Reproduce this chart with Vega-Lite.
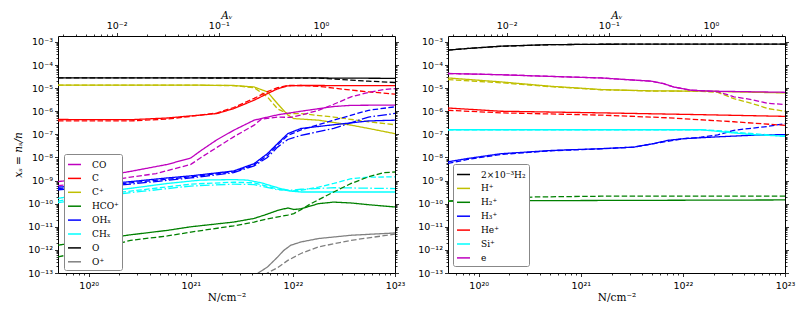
{
 "$schema": "https://vega.github.io/schema/vega-lite/v6.json",
 "padding": {"left": 13, "top": 10, "right": 0, "bottom": 0},
 "bounds": "flush",
 "spacing": 53,
 "config": {
  "view": {"stroke": "black", "strokeWidth": 1},
  "axis": {
   "grid": false, "domain": false, "tickColor": "black", "tickWidth": 0.8,
   "tickSize": {"condition": {"test": "abs(log(datum.value)/LN10-round(log(datum.value)/LN10))<0.001", "value": 3.5}, "value": 2},
   "labelFont": "DejaVu Sans", "labelFontSize": 9.5, "labelColor": "black", "labelPadding": 2,
   "labelOverlap": false, "labelFlush": false, "labelBound": false,
   "labelExpr": "abs(log(datum.value)/LN10-round(log(datum.value)/LN10))>0.001 ? '' : '10' + (datum.value<1 ? '⁻' : '') + (abs(round(log(datum.value)/LN10))>=10 ? ['⁰','¹','²','³','⁴','⁵','⁶','⁷','⁸','⁹'][floor(abs(round(log(datum.value)/LN10))/10)] : '') + ['⁰','¹','²','³','⁴','⁵','⁶','⁷','⁸','⁹'][abs(round(log(datum.value)/LN10))%10]",
   "titleFont": "DejaVu Serif", "titleFontSize": 10.5, "titleFontWeight": "normal", "titleColor": "black"
  },
  "legend": {
   "orient": "none", "title": null, "symbolType": "stroke", "symbolStrokeWidth": 1.5, "symbolSize": 170,
   "labelFont": "DejaVu Serif", "labelFontSize": 9, "labelColor": "black", "labelOffset": 10,
   "strokeColor": "#888888", "fillColor": "white", "padding": 3, "rowPadding": 0.9, "cornerRadius": 2
  }
 },
 "datasets": {
  "d": [{"a": 0.1, "v": 1e-8}],
  "L": [
   {"s":"O","m":"solid","N":5e19,"v":2.75e-5},{"s":"O","m":"solid","N":1e21,"v":2.75e-5},{"s":"O","m":"solid","N":1.78e22,"v":2.75e-5},{"s":"O","m":"solid","N":3.72e22,"v":2.7e-5},{"s":"O","m":"solid","N":1e23,"v":2.65e-5},
   {"s":"O","m":"dashed","N":5e19,"v":2.75e-5},{"s":"O","m":"dashed","N":1e21,"v":2.75e-5},{"s":"O","m":"dashed","N":1.78e22,"v":2.72e-5},{"s":"O","m":"dashed","N":2.51e22,"v":2.5e-5},{"s":"O","m":"dashed","N":3.72e22,"v":2.2e-5},{"s":"O","m":"dashed","N":5.5e22,"v":2.0e-5},{"s":"O","m":"dashed","N":1e23,"v":1.75e-5},

   {"s":"C⁺","m":"solid","N":5e19,"v":1.35e-5},{"s":"C⁺","m":"solid","N":1e21,"v":1.35e-5},{"s":"C⁺","m":"solid","N":2.63e21,"v":1.3e-5},{"s":"C⁺","m":"solid","N":4.17e21,"v":1.12e-5},{"s":"C⁺","m":"solid","N":5.62e21,"v":6.9e-6},{"s":"C⁺","m":"solid","N":7.08e21,"v":2.1e-6},{"s":"C⁺","m":"solid","N":8.91e21,"v":6.9e-7},{"s":"C⁺","m":"solid","N":1.02e22,"v":4.8e-7},{"s":"C⁺","m":"solid","N":1.78e22,"v":4.1e-7},{"s":"C⁺","m":"solid","N":3.72e22,"v":2.5e-7},{"s":"C⁺","m":"solid","N":5.5e22,"v":1.8e-7},{"s":"C⁺","m":"solid","N":1e23,"v":1.07e-7},
   {"s":"C⁺","m":"dashed","N":5e19,"v":1.35e-5},{"s":"C⁺","m":"dashed","N":1e21,"v":1.35e-5},{"s":"C⁺","m":"dashed","N":2.63e21,"v":1.28e-5},{"s":"C⁺","m":"dashed","N":4.17e21,"v":1.05e-5},{"s":"C⁺","m":"dashed","N":5.62e21,"v":4.2e-6},{"s":"C⁺","m":"dashed","N":7.08e21,"v":1.26e-6},{"s":"C⁺","m":"dashed","N":8.91e21,"v":7.9e-7},{"s":"C⁺","m":"dashed","N":1.2e22,"v":7.9e-7},{"s":"C⁺","m":"dashed","N":2.51e22,"v":5.6e-7},{"s":"C⁺","m":"dashed","N":5.5e22,"v":3.5e-7},{"s":"C⁺","m":"dashed","N":1e23,"v":2.6e-7},

   {"s":"C","m":"solid","N":5e19,"v":4.4e-7},{"s":"C","m":"solid","N":1.32e20,"v":4.3e-7},{"s":"C","m":"solid","N":2.57e20,"v":4.3e-7},{"s":"C","m":"solid","N":5.9e20,"v":5.1e-7},{"s":"C","m":"solid","N":1e21,"v":6.3e-7},{"s":"C","m":"solid","N":1.26e21,"v":6.8e-7},{"s":"C","m":"solid","N":1.82e21,"v":8e-7},{"s":"C","m":"solid","N":2.63e21,"v":1.3e-6},{"s":"C","m":"solid","N":4.17e21,"v":3e-6},{"s":"C","m":"solid","N":5.62e21,"v":5.8e-6},{"s":"C","m":"solid","N":7.08e21,"v":9.3e-6},{"s":"C","m":"solid","N":8.91e21,"v":1.26e-5},{"s":"C","m":"solid","N":1.2e22,"v":1.3e-5},{"s":"C","m":"solid","N":1e23,"v":1.28e-5},
   {"s":"C","m":"dashed","N":5e19,"v":3.8e-7},{"s":"C","m":"dashed","N":2.57e20,"v":3.8e-7},{"s":"C","m":"dashed","N":5.9e20,"v":4.6e-7},{"s":"C","m":"dashed","N":1e21,"v":6e-7},{"s":"C","m":"dashed","N":1.82e21,"v":8.5e-7},{"s":"C","m":"dashed","N":2.63e21,"v":1.45e-6},{"s":"C","m":"dashed","N":4.17e21,"v":3.6e-6},{"s":"C","m":"dashed","N":5.62e21,"v":7e-6},{"s":"C","m":"dashed","N":7.08e21,"v":1.05e-5},{"s":"C","m":"dashed","N":8.91e21,"v":1.3e-5},{"s":"C","m":"dashed","N":1.2e22,"v":1.3e-5},{"s":"C","m":"dashed","N":1.78e22,"v":1.2e-5},{"s":"C","m":"dashed","N":2.51e22,"v":1.0e-5},{"s":"C","m":"dashed","N":3.72e22,"v":8.2e-6},{"s":"C","m":"dashed","N":5.5e22,"v":6.9e-6},{"s":"C","m":"dashed","N":1e23,"v":5.5e-6},

   {"s":"CO","m":"solid","N":5e19,"v":9e-10},{"s":"CO","m":"solid","N":1.32e20,"v":1.5e-9},{"s":"CO","m":"solid","N":2.57e20,"v":2.5e-9},{"s":"CO","m":"solid","N":5.9e20,"v":5e-9},{"s":"CO","m":"solid","N":1e21,"v":9.5e-9},{"s":"CO","m":"solid","N":1.26e21,"v":2e-8},{"s":"CO","m":"solid","N":1.82e21,"v":6e-8},{"s":"CO","m":"solid","N":2.63e21,"v":1.5e-7},{"s":"CO","m":"solid","N":4.17e21,"v":4.1e-7},{"s":"CO","m":"solid","N":7.08e21,"v":7e-7},{"s":"CO","m":"solid","N":1.2e22,"v":1.0e-6},{"s":"CO","m":"solid","N":2.51e22,"v":1.6e-6},{"s":"CO","m":"solid","N":3.72e22,"v":1.8e-6},{"s":"CO","m":"solid","N":1e23,"v":1.85e-6},
   {"s":"CO","m":"dashed","N":5e19,"v":6e-10},{"s":"CO","m":"dashed","N":1.32e20,"v":9e-10},{"s":"CO","m":"dashed","N":2.57e20,"v":1.4e-9},{"s":"CO","m":"dashed","N":4.57e20,"v":2e-9},{"s":"CO","m":"dashed","N":1e21,"v":5e-9},{"s":"CO","m":"dashed","N":1.26e21,"v":1e-8},{"s":"CO","m":"dashed","N":1.82e21,"v":2.8e-8},{"s":"CO","m":"dashed","N":2.63e21,"v":7.8e-8},{"s":"CO","m":"dashed","N":4.17e21,"v":2.5e-7},{"s":"CO","m":"dashed","N":4.9e21,"v":4.5e-7},{"s":"CO","m":"dashed","N":7.08e21,"v":5.6e-7},{"s":"CO","m":"dashed","N":9.55e21,"v":5.4e-7},{"s":"CO","m":"dashed","N":1.2e22,"v":6.8e-7},{"s":"CO","m":"dashed","N":1.78e22,"v":1.1e-6},{"s":"CO","m":"dashed","N":2.51e22,"v":2.0e-6},{"s":"CO","m":"dashed","N":3.72e22,"v":4.2e-6},{"s":"CO","m":"dashed","N":5.5e22,"v":6.5e-6},{"s":"CO","m":"dashed","N":7.76e22,"v":8.7e-6},{"s":"CO","m":"dashed","N":1e23,"v":9.5e-6},

   {"s":"OHₓ","m":"solid","N":5e19,"v":5.2e-10},{"s":"OHₓ","m":"solid","N":1.32e20,"v":7e-10},{"s":"OHₓ","m":"solid","N":2.57e20,"v":9e-10},{"s":"OHₓ","m":"solid","N":5.9e20,"v":1.3e-9},{"s":"OHₓ","m":"solid","N":1e21,"v":1.6e-9},{"s":"OHₓ","m":"solid","N":2.63e21,"v":2.6e-9},{"s":"OHₓ","m":"solid","N":4.17e21,"v":5.4e-9},{"s":"OHₓ","m":"solid","N":5.62e21,"v":1.45e-8},{"s":"OHₓ","m":"solid","N":7.08e21,"v":4e-8},{"s":"OHₓ","m":"solid","N":8.91e21,"v":1.07e-7},{"s":"OHₓ","m":"solid","N":1.2e22,"v":1.8e-7},{"s":"OHₓ","m":"solid","N":2.51e22,"v":2.6e-7},{"s":"OHₓ","m":"solid","N":5.5e22,"v":3.8e-7},{"s":"OHₓ","m":"solid","N":1e23,"v":4.1e-7},
   {"s":"OHₓ","m":"dashed","N":5e19,"v":4.5e-10},{"s":"OHₓ","m":"dashed","N":1.32e20,"v":6e-10},{"s":"OHₓ","m":"dashed","N":2.57e20,"v":8e-10},{"s":"OHₓ","m":"dashed","N":1e21,"v":1.45e-9},{"s":"OHₓ","m":"dashed","N":2.63e21,"v":2.4e-9},{"s":"OHₓ","m":"dashed","N":4.17e21,"v":4.8e-9},{"s":"OHₓ","m":"dashed","N":5.62e21,"v":1.2e-8},{"s":"OHₓ","m":"dashed","N":7.08e21,"v":3.5e-8},{"s":"OHₓ","m":"dashed","N":8.91e21,"v":9e-8},{"s":"OHₓ","m":"dashed","N":1.2e22,"v":1.55e-7},{"s":"OHₓ","m":"dashed","N":2.51e22,"v":4.1e-7},{"s":"OHₓ","m":"dashed","N":5.5e22,"v":1.1e-6},{"s":"OHₓ","m":"dashed","N":1e23,"v":1.55e-6},
   {"s":"OHₓ","m":"dashdot","N":5e19,"v":4e-10},{"s":"OHₓ","m":"dashdot","N":1.32e20,"v":5.5e-10},{"s":"OHₓ","m":"dashdot","N":2.57e20,"v":7e-10},{"s":"OHₓ","m":"dashdot","N":1e21,"v":1.3e-9},{"s":"OHₓ","m":"dashdot","N":2.63e21,"v":2.2e-9},{"s":"OHₓ","m":"dashdot","N":4.17e21,"v":4.3e-9},{"s":"OHₓ","m":"dashdot","N":5.62e21,"v":1e-8},{"s":"OHₓ","m":"dashdot","N":7.08e21,"v":2.8e-8},{"s":"OHₓ","m":"dashdot","N":8.91e21,"v":6e-8},{"s":"OHₓ","m":"dashdot","N":1.2e22,"v":9e-8},{"s":"OHₓ","m":"dashdot","N":2.51e22,"v":1.8e-7},{"s":"OHₓ","m":"dashdot","N":5.5e22,"v":5.6e-7},{"s":"OHₓ","m":"dashdot","N":1e23,"v":8e-7},

   {"s":"CHₓ","m":"solid","N":5e19,"v":1.7e-10},{"s":"CHₓ","m":"solid","N":1.32e20,"v":3.2e-10},{"s":"CHₓ","m":"solid","N":2.57e20,"v":4.6e-10},{"s":"CHₓ","m":"solid","N":5.9e20,"v":7.5e-10},{"s":"CHₓ","m":"solid","N":1e21,"v":9.5e-10},{"s":"CHₓ","m":"solid","N":1.26e21,"v":1.05e-9},{"s":"CHₓ","m":"solid","N":2.63e21,"v":1.1e-9},{"s":"CHₓ","m":"solid","N":3.55e21,"v":1.05e-9},{"s":"CHₓ","m":"solid","N":4.9e21,"v":8e-10},{"s":"CHₓ","m":"solid","N":7.08e21,"v":4.9e-10},{"s":"CHₓ","m":"solid","N":9.55e21,"v":3.5e-10},{"s":"CHₓ","m":"solid","N":1.2e22,"v":3.2e-10},{"s":"CHₓ","m":"solid","N":1e23,"v":3.2e-10},
   {"s":"CHₓ","m":"dashed","N":5e19,"v":1.3e-10},{"s":"CHₓ","m":"dashed","N":1.32e20,"v":2.5e-10},{"s":"CHₓ","m":"dashed","N":2.57e20,"v":3.5e-10},{"s":"CHₓ","m":"dashed","N":1e21,"v":7e-10},{"s":"CHₓ","m":"dashed","N":2.63e21,"v":8.5e-10},{"s":"CHₓ","m":"dashed","N":4.17e21,"v":8e-10},{"s":"CHₓ","m":"dashed","N":7.08e21,"v":4.3e-10},{"s":"CHₓ","m":"dashed","N":9.55e21,"v":3.5e-10},{"s":"CHₓ","m":"dashed","N":1.2e22,"v":3.8e-10},{"s":"CHₓ","m":"dashed","N":1.78e22,"v":5.2e-10},{"s":"CHₓ","m":"dashed","N":2.51e22,"v":7.5e-10},{"s":"CHₓ","m":"dashed","N":3.72e22,"v":1.2e-9},{"s":"CHₓ","m":"dashed","N":5.5e22,"v":1.4e-9},{"s":"CHₓ","m":"dashed","N":1e23,"v":1.45e-9},
   {"s":"CHₓ","m":"dashdot","N":5e19,"v":1.1e-10},{"s":"CHₓ","m":"dashdot","N":1.32e20,"v":2.1e-10},{"s":"CHₓ","m":"dashdot","N":2.57e20,"v":3e-10},{"s":"CHₓ","m":"dashdot","N":1e21,"v":5.8e-10},{"s":"CHₓ","m":"dashdot","N":2.63e21,"v":7e-10},{"s":"CHₓ","m":"dashdot","N":4.17e21,"v":6.7e-10},{"s":"CHₓ","m":"dashdot","N":7.08e21,"v":4e-10},{"s":"CHₓ","m":"dashdot","N":9.55e21,"v":3.8e-10},{"s":"CHₓ","m":"dashdot","N":1.2e22,"v":4.2e-10},{"s":"CHₓ","m":"dashdot","N":2.51e22,"v":4.9e-10},{"s":"CHₓ","m":"dashdot","N":1e23,"v":4.5e-10},

   {"s":"HCO⁺","m":"solid","N":5e19,"v":1.6e-12},{"s":"HCO⁺","m":"solid","N":1.32e20,"v":3e-12},{"s":"HCO⁺","m":"solid","N":2.57e20,"v":4.5e-12},{"s":"HCO⁺","m":"solid","N":5.9e20,"v":7e-12},{"s":"HCO⁺","m":"solid","N":1e21,"v":1e-11},{"s":"HCO⁺","m":"solid","N":2.63e21,"v":1.6e-11},{"s":"HCO⁺","m":"solid","N":4.17e21,"v":2.3e-11},{"s":"HCO⁺","m":"solid","N":5.25e21,"v":3.2e-11},{"s":"HCO⁺","m":"solid","N":7.08e21,"v":5.1e-11},{"s":"HCO⁺","m":"solid","N":8.91e21,"v":6.5e-11},{"s":"HCO⁺","m":"solid","N":1.02e22,"v":5.6e-11},{"s":"HCO⁺","m":"solid","N":1.2e22,"v":6e-11},{"s":"HCO⁺","m":"solid","N":1.78e22,"v":1e-10},{"s":"HCO⁺","m":"solid","N":2.51e22,"v":1.17e-10},{"s":"HCO⁺","m":"solid","N":3.72e22,"v":1.07e-10},{"s":"HCO⁺","m":"solid","N":5.5e22,"v":9e-11},{"s":"HCO⁺","m":"solid","N":1e23,"v":7.2e-11},
   {"s":"HCO⁺","m":"dashed","N":5e19,"v":5e-13},{"s":"HCO⁺","m":"dashed","N":1.32e20,"v":1.2e-12},{"s":"HCO⁺","m":"dashed","N":2.57e20,"v":2.6e-12},{"s":"HCO⁺","m":"dashed","N":5.9e20,"v":4e-12},{"s":"HCO⁺","m":"dashed","N":1e21,"v":5.9e-12},{"s":"HCO⁺","m":"dashed","N":2.63e21,"v":1.1e-11},{"s":"HCO⁺","m":"dashed","N":4.17e21,"v":1.6e-11},{"s":"HCO⁺","m":"dashed","N":5.62e21,"v":2.2e-11},{"s":"HCO⁺","m":"dashed","N":8.91e21,"v":3.2e-11},{"s":"HCO⁺","m":"dashed","N":1.02e22,"v":3.7e-11},{"s":"HCO⁺","m":"dashed","N":1.2e22,"v":5.5e-11},{"s":"HCO⁺","m":"dashed","N":1.5e22,"v":1e-10},{"s":"HCO⁺","m":"dashed","N":2.51e22,"v":3.2e-10},{"s":"HCO⁺","m":"dashed","N":3.72e22,"v":7.5e-10},{"s":"HCO⁺","m":"dashed","N":5.5e22,"v":1.45e-9},{"s":"HCO⁺","m":"dashed","N":7.76e22,"v":2.2e-9},{"s":"HCO⁺","m":"dashed","N":1e23,"v":2.35e-9},

   {"s":"O⁺","m":"solid","N":3.1e21,"v":1e-14},{"s":"O⁺","m":"solid","N":4.57e21,"v":1e-13},{"s":"O⁺","m":"solid","N":5.62e21,"v":1.8e-13},{"s":"O⁺","m":"solid","N":7.08e21,"v":4.9e-13},{"s":"O⁺","m":"solid","N":8.13e21,"v":9.5e-13},{"s":"O⁺","m":"solid","N":9.55e21,"v":1.6e-12},{"s":"O⁺","m":"solid","N":1.2e22,"v":2.2e-12},{"s":"O⁺","m":"solid","N":1.78e22,"v":3.1e-12},{"s":"O⁺","m":"solid","N":3.72e22,"v":4.3e-12},{"s":"O⁺","m":"solid","N":1e23,"v":5.4e-12},
   {"s":"O⁺","m":"dashed","N":4e21,"v":1e-14},{"s":"O⁺","m":"dashed","N":5.62e21,"v":1e-13},{"s":"O⁺","m":"dashed","N":7.08e21,"v":1.7e-13},{"s":"O⁺","m":"dashed","N":8.91e21,"v":3.5e-13},{"s":"O⁺","m":"dashed","N":1.2e22,"v":7e-13},{"s":"O⁺","m":"dashed","N":1.78e22,"v":1.35e-12},{"s":"O⁺","m":"dashed","N":3.72e22,"v":2.6e-12},{"s":"O⁺","m":"dashed","N":1e23,"v":4.8e-12}
  ],
  "R": [
   {"s":"2×10⁻³H₂","m":"solid","N":5e19,"v":4.4e-4},{"s":"2×10⁻³H₂","m":"solid","N":7.8e19,"v":5.2e-4},{"s":"2×10⁻³H₂","m":"solid","N":1.65e20,"v":6.5e-4},{"s":"2×10⁻³H₂","m":"solid","N":5.1e20,"v":7.6e-4},{"s":"2×10⁻³H₂","m":"solid","N":1.58e21,"v":7.9e-4},{"s":"2×10⁻³H₂","m":"solid","N":4.9e21,"v":8e-4},{"s":"2×10⁻³H₂","m":"solid","N":1e23,"v":8e-4},
   {"s":"2×10⁻³H₂","m":"dashed","N":5e19,"v":4.4e-4},{"s":"2×10⁻³H₂","m":"dashed","N":7.8e19,"v":5.2e-4},{"s":"2×10⁻³H₂","m":"dashed","N":1.65e20,"v":6.5e-4},{"s":"2×10⁻³H₂","m":"dashed","N":5.1e20,"v":7.6e-4},{"s":"2×10⁻³H₂","m":"dashed","N":1.58e21,"v":7.9e-4},{"s":"2×10⁻³H₂","m":"dashed","N":4.9e21,"v":8e-4},{"s":"2×10⁻³H₂","m":"dashed","N":1e23,"v":8e-4},

   {"s":"H⁺","m":"solid","N":5e19,"v":2.75e-5},{"s":"H⁺","m":"solid","N":1.65e20,"v":1.86e-5},{"s":"H⁺","m":"solid","N":5.1e20,"v":1.2e-5},{"s":"H⁺","m":"solid","N":1.58e21,"v":8.7e-6},{"s":"H⁺","m":"solid","N":4.9e21,"v":7.6e-6},{"s":"H⁺","m":"solid","N":1.5e22,"v":7.4e-6},{"s":"H⁺","m":"solid","N":1e23,"v":6.2e-6},
   {"s":"H⁺","m":"dashed","N":5e19,"v":2.35e-5},{"s":"H⁺","m":"dashed","N":1.65e20,"v":1.7e-5},{"s":"H⁺","m":"dashed","N":5.1e20,"v":1.15e-5},{"s":"H⁺","m":"dashed","N":1.58e21,"v":8.5e-6},{"s":"H⁺","m":"dashed","N":4.9e21,"v":7.5e-6},{"s":"H⁺","m":"dashed","N":1.5e22,"v":7.3e-6},{"s":"H⁺","m":"dashed","N":2.2e22,"v":6.5e-6},{"s":"H⁺","m":"dashed","N":3.16e22,"v":3.5e-6},{"s":"H⁺","m":"dashed","N":4.7e22,"v":2.2e-6},{"s":"H⁺","m":"dashed","N":6.8e22,"v":1.3e-6},{"s":"H⁺","m":"dashed","N":1e23,"v":1.0e-6},

   {"s":"H₂⁺","m":"solid","N":5e19,"v":1.3e-10},{"s":"H₂⁺","m":"solid","N":3.46e20,"v":1.35e-10},{"s":"H₂⁺","m":"solid","N":1e23,"v":1.45e-10},
   {"s":"H₂⁺","m":"dashed","N":5e19,"v":1.3e-10},{"s":"H₂⁺","m":"dashed","N":1.65e20,"v":1.6e-10},{"s":"H₂⁺","m":"dashed","N":3.46e20,"v":1.95e-10},{"s":"H₂⁺","m":"dashed","N":1.58e21,"v":2.1e-10},{"s":"H₂⁺","m":"dashed","N":1e23,"v":2.1e-10},

   {"s":"H₃⁺","m":"solid","N":5e19,"v":6.5e-9},{"s":"H₃⁺","m":"solid","N":7.8e19,"v":9e-9},{"s":"H₃⁺","m":"solid","N":1.65e20,"v":1.45e-8},{"s":"H₃⁺","m":"solid","N":5.1e20,"v":2.0e-8},{"s":"H₃⁺","m":"solid","N":1.58e21,"v":2.4e-8},{"s":"H₃⁺","m":"solid","N":3.3e21,"v":2.8e-8},{"s":"H₃⁺","m":"solid","N":5.2e21,"v":4e-8},{"s":"H₃⁺","m":"solid","N":7.1e21,"v":5.5e-8},{"s":"H₃⁺","m":"solid","N":1.02e22,"v":6.5e-8},{"s":"H₃⁺","m":"solid","N":2.2e22,"v":7.8e-8},{"s":"H₃⁺","m":"solid","N":4.7e22,"v":9.1e-8},{"s":"H₃⁺","m":"solid","N":1e23,"v":9.8e-8},
   {"s":"H₃⁺","m":"dashed","N":5e19,"v":5.5e-9},{"s":"H₃⁺","m":"dashed","N":7.8e19,"v":8.2e-9},{"s":"H₃⁺","m":"dashed","N":1.65e20,"v":1.35e-8},{"s":"H₃⁺","m":"dashed","N":5.1e20,"v":1.95e-8},{"s":"H₃⁺","m":"dashed","N":1.58e21,"v":2.35e-8},{"s":"H₃⁺","m":"dashed","N":3.3e21,"v":2.8e-8},{"s":"H₃⁺","m":"dashed","N":5.2e21,"v":4e-8},{"s":"H₃⁺","m":"dashed","N":1.02e22,"v":6.5e-8},{"s":"H₃⁺","m":"dashed","N":1.5e22,"v":7.5e-8},{"s":"H₃⁺","m":"dashed","N":2.2e22,"v":9.5e-8},{"s":"H₃⁺","m":"dashed","N":3.16e22,"v":1.5e-7},{"s":"H₃⁺","m":"dashed","N":6.8e22,"v":2.2e-7},{"s":"H₃⁺","m":"dashed","N":1e23,"v":2.9e-7},

   {"s":"He⁺","m":"solid","N":5e19,"v":1.38e-6},{"s":"He⁺","m":"solid","N":1.65e20,"v":1.0e-6},{"s":"He⁺","m":"solid","N":1.58e21,"v":8.5e-7},{"s":"He⁺","m":"solid","N":1.5e22,"v":7.1e-7},{"s":"He⁺","m":"solid","N":1e23,"v":6.0e-7},
   {"s":"He⁺","m":"dashed","N":5e19,"v":1.1e-6},{"s":"He⁺","m":"dashed","N":1.65e20,"v":8.5e-7},{"s":"He⁺","m":"dashed","N":1.58e21,"v":6.8e-7},{"s":"He⁺","m":"dashed","N":7.1e21,"v":5.2e-7},{"s":"He⁺","m":"dashed","N":3.16e22,"v":3.5e-7},{"s":"He⁺","m":"dashed","N":1e23,"v":2.45e-7},

   {"s":"Si⁺","m":"solid","N":5e19,"v":1.58e-7},{"s":"Si⁺","m":"solid","N":1.5e22,"v":1.58e-7},{"s":"Si⁺","m":"solid","N":2.2e22,"v":1.35e-7},{"s":"Si⁺","m":"solid","N":3.16e22,"v":1.15e-7},{"s":"Si⁺","m":"solid","N":4.7e22,"v":9.8e-8},{"s":"Si⁺","m":"solid","N":1e23,"v":8.3e-8},
   {"s":"Si⁺","m":"dashed","N":5e19,"v":1.58e-7},{"s":"Si⁺","m":"dashed","N":1.5e22,"v":1.58e-7},{"s":"Si⁺","m":"dashed","N":2.2e22,"v":1.45e-7},{"s":"Si⁺","m":"dashed","N":3.16e22,"v":1.25e-7},{"s":"Si⁺","m":"dashed","N":6.8e22,"v":9.5e-8},{"s":"Si⁺","m":"dashed","N":1e23,"v":8.3e-8},

   {"s":"e","m":"solid","N":5e19,"v":4.3e-5},{"s":"e","m":"solid","N":1.65e20,"v":3.8e-5},{"s":"e","m":"solid","N":3.46e20,"v":3.4e-5},{"s":"e","m":"solid","N":1.58e21,"v":2.75e-5},{"s":"e","m":"solid","N":4.9e21,"v":2.0e-5},{"s":"e","m":"solid","N":6.5e21,"v":1.55e-5},{"s":"e","m":"solid","N":8.1e21,"v":1.12e-5},{"s":"e","m":"solid","N":1.2e22,"v":8.1e-6},{"s":"e","m":"solid","N":1.87e22,"v":7.4e-6},{"s":"e","m":"solid","N":1e23,"v":6.6e-6},
   {"s":"e","m":"dashed","N":5e19,"v":4.3e-5},{"s":"e","m":"dashed","N":1.65e20,"v":3.8e-5},{"s":"e","m":"dashed","N":3.46e20,"v":3.4e-5},{"s":"e","m":"dashed","N":1.58e21,"v":2.75e-5},{"s":"e","m":"dashed","N":4.9e21,"v":2.0e-5},{"s":"e","m":"dashed","N":6.5e21,"v":1.55e-5},{"s":"e","m":"dashed","N":8.1e21,"v":1.12e-5},{"s":"e","m":"dashed","N":1.2e22,"v":8.1e-6},{"s":"e","m":"dashed","N":1.87e22,"v":7.4e-6},{"s":"e","m":"dashed","N":2.2e22,"v":7.0e-6},{"s":"e","m":"dashed","N":3.16e22,"v":4.2e-6},{"s":"e","m":"dashed","N":4.7e22,"v":3.2e-6},{"s":"e","m":"dashed","N":6.8e22,"v":2.2e-6},{"s":"e","m":"dashed","N":1e23,"v":1.95e-6}
  ]
 },
 "hconcat": [
  {
   "width": 337, "height": 237,
   "layer": [
    {
     "data": {"name": "L"},
     "mark": {"type": "line", "clip": true, "strokeWidth": 1.3},
     "encoding": {
      "x": {"field": "N", "type": "quantitative", "scale": {"type": "log", "domain": [5e19, 1e23], "nice": false},
            "axis": {"orient": "bottom", "title": "N/cm⁻²", "titlePadding": 3, "labelPadding": 3.5, "values": [6e19,7e19,8e19,9e19,1e20,2e20,3e20,4e20,5e20,6e20,7e20,8e20,9e20,1e21,2e21,3e21,4e21,5e21,6e21,7e21,8e21,9e21,1e22,2e22,3e22,4e22,5e22,6e22,7e22,8e22,9e22,1e23]}},
      "y": {"field": "v", "type": "quantitative", "scale": {"type": "log", "domain": [1e-13, 1.8e-3], "nice": false},
            "axis": {"orient": "left", "title": "xₛ = nₛ/n", "titleFontStyle": "italic", "titlePadding": 4, "values": [1e-13,2e-13,3e-13,4e-13,5e-13,6e-13,7e-13,8e-13,9e-13,1e-12,2e-12,3e-12,4e-12,5e-12,6e-12,7e-12,8e-12,9e-12,1e-11,2e-11,3e-11,4e-11,5e-11,6e-11,7e-11,8e-11,9e-11,1e-10,2e-10,3e-10,4e-10,5e-10,6e-10,7e-10,8e-10,9e-10,1e-9,2e-9,3e-9,4e-9,5e-9,6e-9,7e-9,8e-9,9e-9,1e-8,2e-8,3e-8,4e-8,5e-8,6e-8,7e-8,8e-8,9e-8,1e-7,2e-7,3e-7,4e-7,5e-7,6e-7,7e-7,8e-7,9e-7,1e-6,2e-6,3e-6,4e-6,5e-6,6e-6,7e-6,8e-6,9e-6,1e-5,2e-5,3e-5,4e-5,5e-5,6e-5,7e-5,8e-5,9e-5,1e-4,2e-4,3e-4,4e-4,5e-4,6e-4,7e-4,8e-4,9e-4,1e-3]}},
      "color": {"field": "s", "type": "nominal",
                "scale": {"domain": ["CO","C","C⁺","HCO⁺","OHₓ","CHₓ","O","O⁺"], "range": ["#bf00bf","#ff0000","#bfbf00","#008000","#0000ff","#00ffff","#000000","#808080"]},
                "legend": {"orient": "none", "legendX": 6, "legendY": 118}},
      "strokeDash": {"field": "m", "type": "nominal", "scale": {"domain": ["solid","dashed","dashdot"], "range": [[1,0],[5.5,2.4],[9.6,2.4,1.5,2.4]]}, "legend": null}
     }
    },
    {
     "data": {"name": "d"},
     "mark": {"type": "point", "opacity": 0},
     "encoding": {
      "x": {"field": "a", "type": "quantitative", "scale": {"type": "log", "domain": [0.00266, 5.32], "nice": false},
            "axis": {"orient": "top", "title": "Aᵥ", "titleFontStyle": "italic", "titlePadding": 0, "values": [0.003,0.004,0.005,0.006,0.007,0.008,0.009,0.01,0.02,0.03,0.04,0.05,0.06,0.07,0.08,0.09,0.1,0.2,0.3,0.4,0.5,0.6,0.7,0.8,0.9,1,2,3,4,5]}},
      "y": {"field": "v", "type": "quantitative", "scale": {"type": "log", "domain": [1e-13, 1.8e-3], "nice": false},
            "axis": {"orient": "right", "labels": false, "title": null, "values": [1e-13,2e-13,3e-13,4e-13,5e-13,6e-13,7e-13,8e-13,9e-13,1e-12,2e-12,3e-12,4e-12,5e-12,6e-12,7e-12,8e-12,9e-12,1e-11,2e-11,3e-11,4e-11,5e-11,6e-11,7e-11,8e-11,9e-11,1e-10,2e-10,3e-10,4e-10,5e-10,6e-10,7e-10,8e-10,9e-10,1e-9,2e-9,3e-9,4e-9,5e-9,6e-9,7e-9,8e-9,9e-9,1e-8,2e-8,3e-8,4e-8,5e-8,6e-8,7e-8,8e-8,9e-8,1e-7,2e-7,3e-7,4e-7,5e-7,6e-7,7e-7,8e-7,9e-7,1e-6,2e-6,3e-6,4e-6,5e-6,6e-6,7e-6,8e-6,9e-6,1e-5,2e-5,3e-5,4e-5,5e-5,6e-5,7e-5,8e-5,9e-5,1e-4,2e-4,3e-4,4e-4,5e-4,6e-4,7e-4,8e-4,9e-4,1e-3]}}
     }
    }
   ],
   "resolve": {"scale": {"x": "independent", "y": "independent"}, "axis": {"x": "independent", "y": "independent"}}
  },
  {
   "width": 337, "height": 237,
   "layer": [
    {
     "data": {"name": "R"},
     "mark": {"type": "line", "clip": true, "strokeWidth": 1.3},
     "encoding": {
      "x": {"field": "N", "type": "quantitative", "scale": {"type": "log", "domain": [5e19, 1e23], "nice": false},
            "axis": {"orient": "bottom", "title": "N/cm⁻²", "titlePadding": 3, "labelPadding": 3.5, "values": [6e19,7e19,8e19,9e19,1e20,2e20,3e20,4e20,5e20,6e20,7e20,8e20,9e20,1e21,2e21,3e21,4e21,5e21,6e21,7e21,8e21,9e21,1e22,2e22,3e22,4e22,5e22,6e22,7e22,8e22,9e22,1e23]}},
      "y": {"field": "v", "type": "quantitative", "scale": {"type": "log", "domain": [1e-13, 1.8e-3], "nice": false},
            "axis": {"orient": "left", "title": null, "values": [1e-13,2e-13,3e-13,4e-13,5e-13,6e-13,7e-13,8e-13,9e-13,1e-12,2e-12,3e-12,4e-12,5e-12,6e-12,7e-12,8e-12,9e-12,1e-11,2e-11,3e-11,4e-11,5e-11,6e-11,7e-11,8e-11,9e-11,1e-10,2e-10,3e-10,4e-10,5e-10,6e-10,7e-10,8e-10,9e-10,1e-9,2e-9,3e-9,4e-9,5e-9,6e-9,7e-9,8e-9,9e-9,1e-8,2e-8,3e-8,4e-8,5e-8,6e-8,7e-8,8e-8,9e-8,1e-7,2e-7,3e-7,4e-7,5e-7,6e-7,7e-7,8e-7,9e-7,1e-6,2e-6,3e-6,4e-6,5e-6,6e-6,7e-6,8e-6,9e-6,1e-5,2e-5,3e-5,4e-5,5e-5,6e-5,7e-5,8e-5,9e-5,1e-4,2e-4,3e-4,4e-4,5e-4,6e-4,7e-4,8e-4,9e-4,1e-3]}},
      "color": {"field": "s", "type": "nominal",
                "scale": {"domain": ["2×10⁻³H₂","H⁺","H₂⁺","H₃⁺","He⁺","Si⁺","e"], "range": ["#000000","#bfbf00","#008000","#0000ff","#ff0000","#00ffff","#bf00bf"]},
                "legend": {"orient": "none", "legendX": 5, "legendY": 128}},
      "strokeDash": {"field": "m", "type": "nominal", "scale": {"domain": ["solid","dashed","dashdot"], "range": [[1,0],[5.5,2.4],[9.6,2.4,1.5,2.4]]}, "legend": null}
     }
    },
    {
     "data": {"name": "d"},
     "mark": {"type": "point", "opacity": 0},
     "encoding": {
      "x": {"field": "a", "type": "quantitative", "scale": {"type": "log", "domain": [0.00266, 5.32], "nice": false},
            "axis": {"orient": "top", "title": "Aᵥ", "titleFontStyle": "italic", "titlePadding": 0, "values": [0.003,0.004,0.005,0.006,0.007,0.008,0.009,0.01,0.02,0.03,0.04,0.05,0.06,0.07,0.08,0.09,0.1,0.2,0.3,0.4,0.5,0.6,0.7,0.8,0.9,1,2,3,4,5]}},
      "y": {"field": "v", "type": "quantitative", "scale": {"type": "log", "domain": [1e-13, 1.8e-3], "nice": false},
            "axis": {"orient": "right", "labels": false, "title": null, "values": [1e-13,2e-13,3e-13,4e-13,5e-13,6e-13,7e-13,8e-13,9e-13,1e-12,2e-12,3e-12,4e-12,5e-12,6e-12,7e-12,8e-12,9e-12,1e-11,2e-11,3e-11,4e-11,5e-11,6e-11,7e-11,8e-11,9e-11,1e-10,2e-10,3e-10,4e-10,5e-10,6e-10,7e-10,8e-10,9e-10,1e-9,2e-9,3e-9,4e-9,5e-9,6e-9,7e-9,8e-9,9e-9,1e-8,2e-8,3e-8,4e-8,5e-8,6e-8,7e-8,8e-8,9e-8,1e-7,2e-7,3e-7,4e-7,5e-7,6e-7,7e-7,8e-7,9e-7,1e-6,2e-6,3e-6,4e-6,5e-6,6e-6,7e-6,8e-6,9e-6,1e-5,2e-5,3e-5,4e-5,5e-5,6e-5,7e-5,8e-5,9e-5,1e-4,2e-4,3e-4,4e-4,5e-4,6e-4,7e-4,8e-4,9e-4,1e-3]}}
     }
    }
   ],
   "resolve": {"scale": {"x": "independent", "y": "independent"}, "axis": {"x": "independent", "y": "independent"}}
  }
 ],
 "resolve": {"scale": {"color": "independent"}}
}
